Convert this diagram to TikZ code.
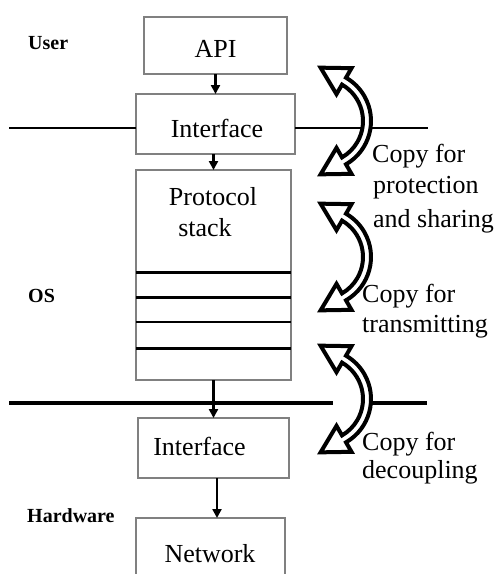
\documentclass[tikz,border=0pt]{standalone}
\usepackage{fontspec}
\setmainfont{Liberation Serif}
\usetikzlibrary{calc,arrows.meta}

\tikzset{
  box/.style={draw=black!50, line width=1.4pt, rectangle, inner sep=0pt, outer sep=0pt},
  txt/.style={inner sep=0pt, font=\fontsize{26}{31}\selectfont},
  layer/.style={font=\fontsize{20}{24}\selectfont\bfseries, inner sep=0pt},
  conn/.style={line width=2.8pt, -{Triangle[length=9pt,width=9pt]}},
  septhin/.style={line width=1.4pt},
  septhick/.style={line width=3.2pt},
  stackthick/.style={line width=3pt},
  stackthin/.style={line width=1.4pt},
  % curved double-headed "copy" arrow drawn as one outlined block arrow
  copyarrow/.pic={
    \draw[fill=white, line width=4pt, line join=miter, miter limit=4]
      (-60:42) arc[start angle=-60, end angle=60, radius=42]
      -- (60:31) -- ($(60:46)+(150:27)$) -- (60:61) -- (60:50)
      arc[start angle=60, end angle=-60, radius=50]
      -- (-60:61) -- ($(-60:46)+(-150:27)$) -- (-60:31) -- cycle;
  }
}

\begin{document}
\begin{tikzpicture}[x=1pt, y=-1pt]
  \useasboundingbox (0,0) rectangle (498,574);
  \clip (0,0) rectangle (498,574);

  % boxes
  \node[box, minimum width=143pt, minimum height=57pt] (api) at (215.5,45.5) {};
  \node[box, minimum width=159pt, minimum height=60pt] (ifc) at (215.5,124) {};
  \node[box, minimum width=155pt, minimum height=210pt] (stack) at (213.5,275) {};
  \node[box, minimum width=151pt, minimum height=60pt] (ifl) at (213.5,448) {};
  \node[box, minimum width=149pt, minimum height=82pt] (net) at (210.5,559) {};

  % box texts
  \node[txt, anchor=base] (tapi) at (215.5,57) {API};
  \node[txt, anchor=base] (tifc) at (217,137) {Interface};
  \node[txt, anchor=base] (tpro) at (213,205) {Protocol};
  \node[txt, anchor=base] (tstk) at (205,236) {stack};
  \node[txt, anchor=base] (tifl) at (199.5,455) {Interface};
  \node[txt, anchor=base] (tnet) at (210,562) {Network};

  % layers inside the protocol stack
  \coordinate (l1) at (0,272);
  \coordinate (l2) at (0,297);
  \coordinate (l3) at (0,322);
  \coordinate (l4) at (0,348);
  \draw[stackthick] (stack.west |- l1) -- (stack.east |- l1);
  \draw[stackthick] (stack.west |- l2) -- (stack.east |- l2);
  \draw[stackthin]  (stack.west |- l3) -- (stack.east |- l3);
  \draw[stackthick] (stack.west |- l4) -- (stack.east |- l4);

  % layer names
  \node[layer, anchor=base west] (luser) at (28,49) {User};
  \node[layer, anchor=base west] (los) at (28,302) {OS};
  \node[layer, anchor=base west] (lhw) at (27,522) {Hardware};

  % boundaries between user space, OS and hardware
  \coordinate (s1l) at (9,128);
  \coordinate (s1r) at (428,128);
  \draw[septhin] (s1l) -- (s1l -| ifc.west);
  \draw[septhin] (s1r -| ifc.east) -- (s1r);
  \coordinate (s2l) at (9,403);
  \coordinate (s2m) at (333,403);
  \coordinate (s2n) at (372,403);
  \coordinate (s2r) at (427,403);
  \draw[septhick] (s2l) -- (s2m);
  \draw[septhick] (s2n) -- (s2r);

  % data path
  \draw[conn] (api.south) -- (ifc.north);
  \draw[conn] (ifc.south -| stack.north) -- (stack.north);
  \draw[conn] (stack.south) -- (ifl.north);
  \draw[conn] ([xshift=3.5pt]ifl.south) -- ([xshift=3.5pt]ifl.south |- net.north);

  % copy operations
  \pic at (321,121) {copyarrow};
  \pic at (321,257) {copyarrow};
  \pic at (321,399) {copyarrow};

  \node[txt, anchor=base west] (c1a) at (372,162) {Copy for};
  \node[txt, anchor=base west] (c1b) at (373,193) {protection};
  \node[txt, anchor=base west] (c1c) at (373,227) {and sharing};
  \node[txt, anchor=base west] (c2a) at (362,302) {Copy for};
  \node[txt, anchor=base west] (c2b) at (362,332) {transmitting};
  \node[txt, anchor=base west] (c3a) at (362,450) {Copy for};
  \node[txt, anchor=base west] (c3b) at (362,478) {decoupling};
\end{tikzpicture}
\end{document}
